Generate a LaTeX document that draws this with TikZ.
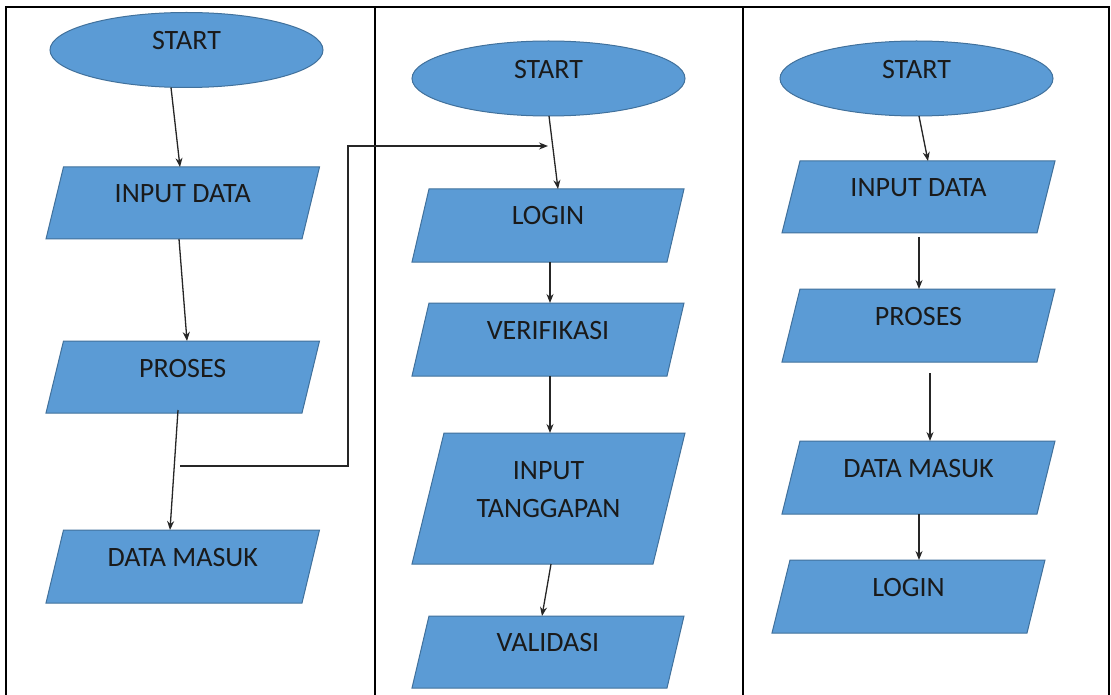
\documentclass[tikz,border=0pt]{standalone}
\usepackage{fontspec}
\setmainfont{Carlito}
\usetikzlibrary{shapes.geometric,arrows.meta,calc}
\definecolor{boxfill}{HTML}{5B9BD5}
\definecolor{boxline}{HTML}{41719C}
\definecolor{txt}{HTML}{1A1A1A}
\tikzset{
 shp/.style={fill=boxfill, draw=boxline, line width=1pt},
 bnd/.style={rectangle, inner sep=0pt, outer sep=0pt},
 ell/.style={ellipse, shp, inner sep=0pt, outer sep=0pt, minimum width=273pt, minimum height=75pt},
 lbl/.style={anchor=base, inner sep=0pt, text=txt, font=\fontsize{28}{34}\selectfont},
 flow/.style={draw=black!85, line width=1.3pt, -{Stealth[length=9pt,width=7pt]}},
 frame/.style={draw=black, line width=2.5pt},
}
% name, bottom-left x, top y, bottom y, bottom width, skew, text, baseline offset
\newcommand\para[8]{%
  \filldraw[shp] (#2,#4) -- ({#2+#5},#4) -- ({#2+#5+#6},#3) -- ({#2+#6},#3) -- cycle;
  \node[bnd, minimum width={(#5+#6)*1pt}, minimum height={(#4-#3)*1pt}] (#1) at ({#2+(#5+#6)/2},{(#3+#4)/2}) {};
  \node[lbl] (#1t) at ({#2+(#5+#6)/2},{#3+#8}) {#7};
}
\begin{document}
\begin{tikzpicture}[x=1pt,y=-1pt]
\useasboundingbox (0,0) rectangle (1111,695);
\fill[white] (0,0) rectangle (1111,695);
% frame
\draw[frame] (6,700) -- (6,7) -- (1109,7) -- (1109,700);
\draw[frame] (375,7) -- (375,700);
\draw[frame] (743,7) -- (743,700);

% column 1
\node[ell] (s1) at (186.5,50) {};
\node[lbl] (s1t) at (186.5,50) {START};
\para{in1}{46}{167}{239}{256}{17.5}{INPUT DATA}{36}
\para{pr1}{46}{341}{413}{256}{17.5}{PROSES}{36}
\para{dm1}{46}{530}{603}{256}{17.5}{DATA MASUK}{36}

% column 2
\node[ell] (s2) at (548.5,78.5) {};
\node[lbl] (s2t) at (548.5,78.5) {START};
\para{lg2}{412}{189}{262}{255}{17}{LOGIN}{36}
\para{vf2}{412}{303}{376}{255}{17}{VERIFIKASI}{36}
\para{it2}{412}{433}{564}{241}{32}{INPUT}{46}
\node[lbl] (it2u) at (548.5,517) {TANGGAPAN};
\para{vl2}{412}{616}{688}{255}{17}{VALIDASI}{35}

% column 3
\node[ell] (s3) at (916.5,78.5) {};
\node[lbl] (s3t) at (916.5,78.5) {START};
\para{in3}{782}{161}{233}{255}{18}{INPUT DATA}{36}
\para{pr3}{782}{289}{362}{255}{18}{PROSES}{36}
\para{dm3}{782}{441}{514}{255}{18}{DATA MASUK}{36}
\para{lg3}{772}{560}{633}{255}{18}{LOGIN}{36}

% arrows column 1
\draw[flow] ($(s1.south)+(-15.5,0)$) -- ($(in1.north)+(-2.75,0)$);
\draw[flow] ($(in1.south)+(-3.75,0)$) -- ($(pr1.north)+(4.25,0)$);
\draw[flow] ($(pr1.south)+(-4.75,-3)$) -- ($(dm1.north)+(-12.75,0)$);
% connector col1 -> col2
\coordinate (j1) at (180,466);
\coordinate (jc) at (348,146);
\coordinate (j2) at (548,146);
\draw[flow] (j1) -| (jc) -- (j2);

% arrows column 2
\draw[flow] ($(s2.south)+(0.5,0)$) -- ($(lg2.north)+(10,0)$);
\draw[flow] ($(lg2.south)+(2,0)$) -- ($(vf2.north)+(2,0)$);
\draw[flow] ($(vf2.south)+(2,0)$) -- ($(it2.north)+(1.5,0)$);
\draw[flow] ($(it2.south)+(2.5,0)$) -- ($(vl2.north)+(-6,0)$);

% arrows column 3
\draw[flow] ($(s3.south)+(2.5,0)$) -- ($(in3.north)+(9.5,0)$);
\draw[flow] ($(in3.south)+(0.5,4)$) -- ($(pr3.north)+(0.5,0)$);
\draw[flow] ($(pr3.south)+(11.5,11)$) -- ($(dm3.north)+(11.5,0)$);
\draw[flow] ($(dm3.south)+(0.5,0)$) -- ($(lg3.north)+(10.5,0)$);
\end{tikzpicture}
\end{document}
